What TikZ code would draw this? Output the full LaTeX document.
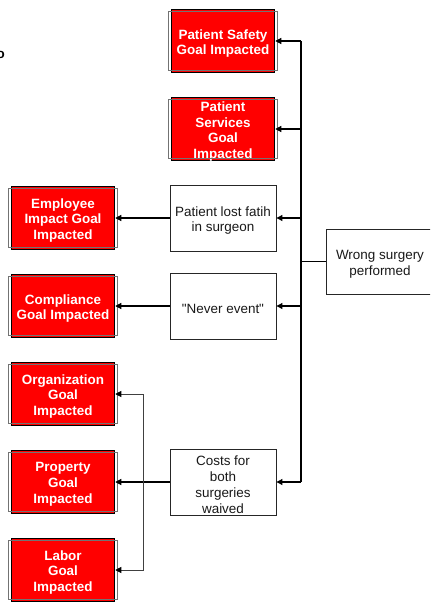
\documentclass[tikz,border=0pt]{standalone}
\usepackage{fontspec}
\newfontfamily\plainsans{Liberation Sans}
\usetikzlibrary{arrows.meta,calc}
\begin{document}
\begin{tikzpicture}[x=1bp,y=-1bp,
  goal/.style={draw=black,line width=1.5bp,fill=red,minimum width=103bp,minimum height=63bp,inner sep=0pt},
  goaltxt/.style={text=white,font=\plainsans\fontsize{13.5}{16}\selectfont\bfseries,align=center,inner sep=0pt,yshift=-2.5bp},
  cause/.style={draw=black!85,line width=0.9bp,fill=white,minimum width=106bp,minimum height=66bp,inner sep=0pt},
  causetxt/.style={text=black!90,font=\plainsans\fontsize{13.5}{16}\selectfont,align=center,inner sep=0pt,yshift=-2.5bp},
  conn/.style={draw=black,line width=1.1bp},
  arr/.style={conn,-{Triangle[length=6bp,width=6bp]}},
  larr/.style={draw=black!75,line width=0.9bp,{Triangle[length=6bp,width=6bp,black]}-{Triangle[length=6bp,width=6bp,black]}}
]
\useasboundingbox (0,0) rectangle (430,603);
\clip (0,0) rectangle (430,603);

\node[anchor=east,inner sep=0pt,font=\plainsans\fontsize{13.5}{16}\selectfont\bfseries] (frag) at (5,55) {o};

\node[goal,label={[goaltxt]center:{Patient Safety\\Goal Impacted}}] (safety) at (223,41) {};
\node[goal,label={[goaltxt]center:{Patient\\Services\\Goal\\Impacted}}] (services) at (223,129) {};
\node[goal,label={[goaltxt]center:{Employee\\Impact Goal\\Impacted}}] (emp) at (63,218) {};
\node[goal,label={[goaltxt]center:{Compliance\\Goal Impacted}}] (comp) at (63,306) {};
\node[goal,label={[goaltxt]center:{Organization\\Goal\\Impacted}}] (org) at (63,394) {};
\node[goal,label={[goaltxt]center:{Property\\Goal\\Impacted}}] (prop) at (63,482) {};
\node[goal,label={[goaltxt]center:{Labor\\Goal\\Impacted}}] (labor) at (63,570) {};

\foreach \n in {safety,services,emp,comp,org,prop,labor}{
  \draw[black!55,line width=0.8bp] ([shift={(-2.6bp,-2.6bp)}]\n.north west) rectangle ([shift={(2.6bp,2.6bp)}]\n.south east);
}

\node[cause,label={[causetxt]center:{Patient lost fatih\\in surgeon}}] (faith) at (223,218) {};
\node[cause,label={[causetxt]center:{"Never event"}}] (never) at (223,306) {};
\node[cause,label={[causetxt]center:{Costs for\\both\\surgeries\\waived}}] (costs) at (223,482) {};
\node[cause,minimum width=108bp,minimum height=65bp,label={[causetxt]center:{Wrong surgery\\performed}}] (wrong) at (380,261.5) {};

\coordinate (busx) at (301,0);
\coordinate (lx) at (143,0);

\draw[conn] (wrong.west) -- (busx |- wrong.west);
\draw[conn] (busx |- safety.east) -- (busx |- costs.east);
\foreach \n in {safety,services,faith,never,costs}{
  \draw[arr] (busx |- \n.east) -- (\n.east);
}

\draw[arr] (faith.west) -- (emp.east);
\draw[arr] (never.west) -- (comp.east);
\draw[arr] (costs.west) -- (prop.east);
\draw[larr] (org.east) -- (lx |- org.east) -- (lx |- labor.east) -- (labor.east);
\end{tikzpicture}
\end{document}
